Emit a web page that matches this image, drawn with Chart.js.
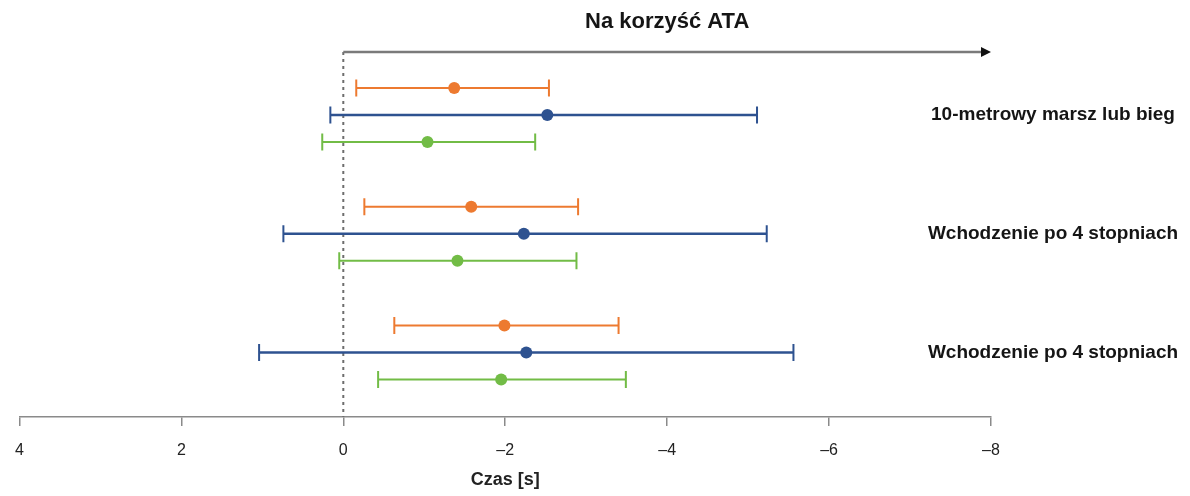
<!DOCTYPE html>
<html>
<head>
<meta charset="utf-8">
<script src="https://cdn.jsdelivr.net/npm/chart.js@4.4.0/dist/chart.umd.min.js"></script>
<style>
  html, body { margin: 0; padding: 0; background: #ffffff; }
  canvas { display: block; }
</style>
</head>
<body>
<canvas id="forest" width="1190" height="496"></canvas>
<script>
// Outcome groups (top to bottom) and the x-axis ticks (seconds)
const outcomes = ['10-metrowy marsz lub bieg', 'Wchodzenie po 4 stopniach', 'Wchodzenie po 4 stopniach'];
const xTicks = [4, 2, 0, -2, -4, -6, -8];

// Series 1 (orange): mean difference and 95% CI per outcome
const orangeMean  = [-1.37, -1.58, -1.99];
const orangeLower = [-2.54, -2.90, -3.40];
const orangeUpper = [-0.16, -0.26, -0.63];

// Series 2 (blue)
const blueMean  = [-2.52, -2.23, -2.26];
const blueLower = [-5.11, -5.23, -5.56];
const blueUpper = [0.16, 0.74, 1.04];

// Series 3 (green)
const greenMean  = [-1.04, -1.41, -1.95];
const greenLower = [-2.37, -2.88, -3.49];
const greenUpper = [0.26, 0.05, -0.43];

const series = [
  { color: '#ED7A30', width: 2,   mean: orangeMean, lower: orangeLower, upper: orangeUpper },
  { color: '#2E5290', width: 2.5, mean: blueMean,   lower: blueLower,   upper: blueUpper },
  { color: '#72BC46', width: 2,   mean: greenMean,  lower: greenLower,  upper: greenUpper }
];

// Row placement on the vertical axis: three rows per outcome, with a gap between outcomes
const groupStep = 4.4;
const rowPos = (g, s) => g * groupStep + s;

const datasets = [];
series.forEach((sr, s) => {
  outcomes.forEach((_, g) => {
    datasets.push({
      type: 'line',
      data: [{ x: sr.lower[g], y: rowPos(g, s) }, { x: sr.upper[g], y: rowPos(g, s) }],
      borderColor: sr.color,
      borderWidth: sr.width,
      pointStyle: 'line',
      rotation: 90,
      pointRadius: 8.5,
      pointBorderColor: sr.color,
      pointBorderWidth: 2,
      fill: false
    });
  });
  datasets.push({
    type: 'scatter',
    data: outcomes.map((_, g) => ({ x: sr.mean[g], y: rowPos(g, s) })),
    backgroundColor: sr.color,
    borderWidth: 0,
    pointRadius: 6
  });
});

// Zero reference line, "favours" arrow, heading and outcome names
const decor = {
  id: 'decor',
  beforeDatasetsDraw(chart) {
    const { ctx, chartArea, scales: { x } } = chart;
    const x0 = x.getPixelForValue(0);
    ctx.save();
    ctx.strokeStyle = '#6d6d6d';
    ctx.lineWidth = 2;
    ctx.setLineDash([3, 4]);
    ctx.beginPath();
    ctx.moveTo(x0, chartArea.top);
    ctx.lineTo(x0, chartArea.bottom);
    ctx.stroke();
    ctx.restore();
  },
  afterDraw(chart) {
    const { ctx, chartArea, scales: { x, y } } = chart;
    const xStart = x.getPixelForValue(0);
    const xEnd = x.getPixelForValue(-8);
    const ya = chartArea.top;
    ctx.save();
    ctx.strokeStyle = '#7a7a7a';
    ctx.lineWidth = 2.5;
    ctx.beginPath();
    ctx.moveTo(xStart, ya);
    ctx.lineTo(xEnd - 8, ya);
    ctx.stroke();
    ctx.fillStyle = '#111111';
    ctx.beginPath();
    ctx.moveTo(xEnd, ya);
    ctx.lineTo(xEnd - 10, ya - 5);
    ctx.lineTo(xEnd - 10, ya + 5);
    ctx.closePath();
    ctx.fill();

    ctx.fillStyle = '#151515';
    ctx.textAlign = 'center';
    ctx.textBaseline = 'middle';
    ctx.font = 'bold 22px "Liberation Sans", Arial, sans-serif';
    ctx.fillText('Na korzyść ATA', x.getPixelForValue(-4), 22);

    ctx.font = 'bold 19px "Liberation Sans", Arial, sans-serif';
    outcomes.forEach((name, g) => {
      ctx.fillText(name, 1053, y.getPixelForValue(rowPos(g, 1)));
    });
    ctx.restore();
  }
};

new Chart(document.getElementById('forest'), {
  data: { datasets },
  options: {
    responsive: false,
    animation: false,
    layout: { padding: { left: 19, right: 199, top: 52, bottom: 0 } },
    plugins: { legend: { display: false }, tooltip: { enabled: false } },
    scales: {
      x: {
        type: 'linear',
        position: 'bottom',
        min: -8,
        max: 4,
        reverse: true,
        afterBuildTicks: (scale) => { scale.ticks = xTicks.map(v => ({ value: v })); },
        afterFit: (scale) => { scale.height = 79; },
        border: { display: true, color: '#8a8a8a', width: 1.5 },
        grid: { drawOnChartArea: false, drawTicks: true, tickLength: 9, color: '#8a8a8a', lineWidth: 1.5 },
        ticks: {
          padding: 15,
          color: '#222222',
          font: { family: '"Liberation Sans", Arial, sans-serif', size: 16 },
          callback: (v) => (v < 0 ? '\u2013' + (-v) : String(v))
        },
        title: {
          display: true,
          text: 'Czas [s]',
          color: '#222222',
          font: { family: '"Liberation Sans", Arial, sans-serif', size: 18, weight: 'bold' },
          padding: { top: 0, bottom: 5 }
        }
      },
      y: {
        type: 'linear',
        display: false,
        min: -1.33,
        max: 12.19,
        reverse: true
      }
    }
  },
  plugins: [decor]
});
</script>
</body>
</html>
